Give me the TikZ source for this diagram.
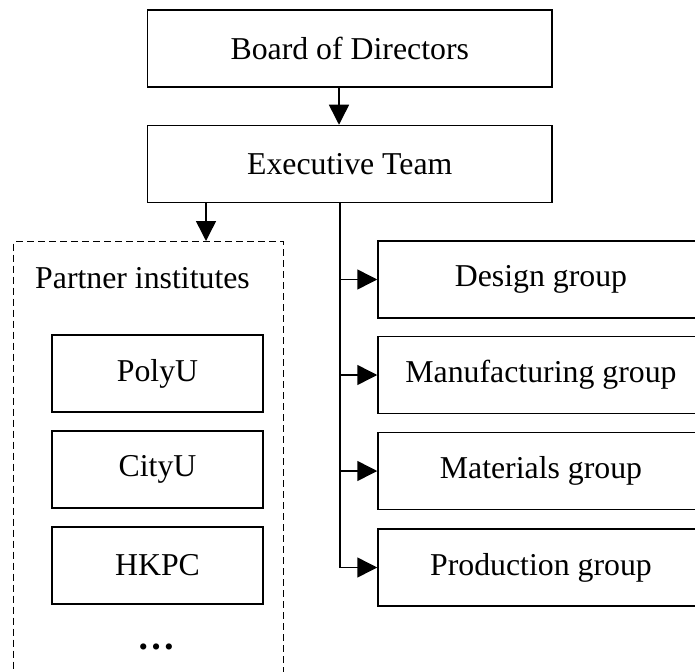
\documentclass[tikz,border=0pt]{standalone}
\usepackage{fontspec}
\setmainfont{Liberation Serif}
\usetikzlibrary{arrows.meta}
\begin{document}
\begin{tikzpicture}[x=1pt,y=-1pt,
  box/.style={draw, line width=1.5pt, minimum height=77pt, inner sep=0pt, anchor=center,
    font=\fontsize{31.8}{38}\selectfont},
  conn/.style={line width=1.5pt, -{Triangle[width=20pt,length=20pt]}},
  plain/.style={line width=1.5pt}]
\useasboundingbox (0,0) rectangle (695,671);
\begin{scope}
\clip (0,0) rectangle (695,671);
\node[box, minimum width=404.5pt] (board) at (349.75,48.5) {Board of Directors};
\node[box, minimum width=404.5pt] (exec) at (349.75,164) {Executive Team};
\node[draw, dash pattern=on 7pt off 4pt, line width=1.4pt, minimum width=270pt, minimum height=470pt, inner sep=0pt, anchor=north west] (partners) at (13,241) {};
\node[anchor=west, inner sep=0pt, font=\fontsize{31.8}{38}\selectfont] (ptitle) at (35,278) {Partner institutes};
\node[box, minimum width=211pt] (polyu) at (157.5,373.5) {PolyU};
\node[box, minimum width=211pt] (cityu) at (157.5,469.5) {CityU};
\node[box, minimum width=211pt] (hkpc) at (157.5,565.5) {HKPC};
\node[inner sep=0pt, font=\fontsize{38}{42}\selectfont\bfseries] (dots) at (156,647) {…};
\node[box, minimum width=326pt] (design) at (541,279.5) {Design group};
\node[box, minimum width=326pt] (manu) at (541,375) {Manufacturing group};
\node[box, minimum width=326pt] (mat) at (541,471) {Materials group};
\node[box, minimum width=326pt] (prod) at (541,567.5) {Production group};
\end{scope}
\draw[conn] (board.south -| 339,0) -- (exec.north -| 339,0);
\draw[conn] (exec.south -| 206,0) -- (partners.north -| 206,0);
\coordinate (trunk) at (exec.south -| 340,0);
\draw[plain] (trunk) -- (prod.west -| trunk);
\draw[conn] (design.west -| trunk) -- (design.west);
\draw[conn] (manu.west -| trunk) -- (manu.west);
\draw[conn] (mat.west -| trunk) -- (mat.west);
\draw[conn] (prod.west -| trunk) -- (prod.west);
\end{tikzpicture}
\end{document}
